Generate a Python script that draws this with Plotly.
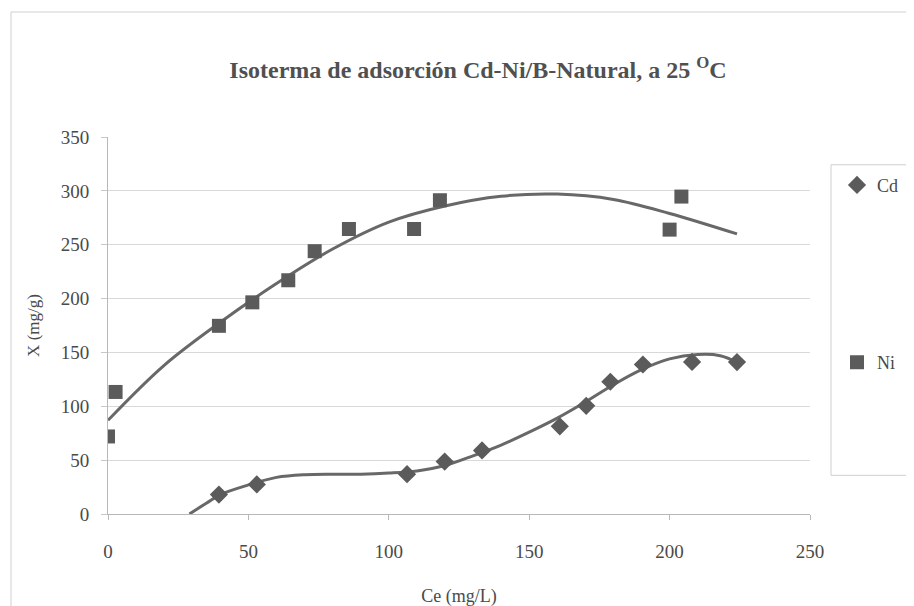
import plotly.graph_objects as go

# Data
cd_x = [39.5, 53, 106.5, 119.9, 133.2, 160.9, 170.3, 178.9, 190.5, 208, 224]
cd_y = [18, 27.5, 37, 48.7, 59, 81.4, 100.4, 122.8, 138.8, 141.2, 141]
ni_x = [0, 2.7, 39.5, 51.4, 64.2, 73.6, 85.8, 109, 118.2, 200, 204.2]
ni_y = [72, 113.3, 174.7, 196.5, 217, 244, 264.6, 264.6, 291.3, 264, 294.7]

# Trend lines
cd_trend_x = [29, 35, 40, 50, 60, 70, 80, 90, 100, 110, 120, 130, 140, 150, 160, 170, 180, 190, 200, 210, 218, 224]
cd_trend_y = [0, 10, 18, 27, 34, 36.5, 37, 37, 38, 40, 45, 54, 64, 76, 89, 104, 120, 134, 144, 148, 147, 141]
ni_trend_x = [0, 20, 40, 60, 80, 100, 120, 140, 160, 180, 200, 224]
ni_trend_y = [87, 138, 178, 214, 246, 271, 286, 295, 297, 292, 279, 260]

x_ticks = [0, 50, 100, 150, 200, 250]
y_ticks = [0, 50, 100, 150, 200, 250, 300, 350]

FONT = "Liberation Serif"
MARK = "#5b5b5b"
LINE = "#686868"

fig = go.Figure()
fig.add_trace(go.Scatter(x=cd_trend_x, y=cd_trend_y, mode="lines", line=dict(color=LINE, width=3, shape="spline"),
                         showlegend=False, hoverinfo="skip"))
fig.add_trace(go.Scatter(x=ni_trend_x, y=ni_trend_y, mode="lines", line=dict(color=LINE, width=3, shape="spline"),
                         showlegend=False, hoverinfo="skip"))
fig.add_trace(go.Scatter(x=cd_x, y=cd_y, mode="markers", name="Cd", legendgroup="cd",
                         marker=dict(symbol="diamond", size=14, color=MARK)))
fig.add_trace(go.Scatter(x=ni_x, y=ni_y, mode="markers", name="Ni", legendgroup="ni",
                         marker=dict(symbol="square", size=14, color=MARK)))

W, H = 914, 606
L, R, T, B = 100, 112, 129, 97
pw, ph = W - L - R, H - T - B

def px(xp):
    return (xp - L) / pw

def py(yp):
    return (H - B - yp) / ph

fig.update_layout(
    width=W, height=H,
    margin=dict(l=L, r=R, t=T, b=B),
    paper_bgcolor="white", plot_bgcolor="white",
    font=dict(family=FONT, size=17, color="#444"),
    title=dict(text="<b>Isoterma de adsorción Cd-Ni/B-Natural, a 25 <sup>O</sup>C</b>",
               font=dict(family=FONT, size=24, color="#505050"),
               x=470 / W, xanchor="center", xref="container",
               y=1 - 62 / H, yanchor="middle", yref="container"),
    xaxis=dict(range=[0, 250], tickvals=x_ticks, showgrid=False, zeroline=False,
               showline=True, linecolor="#b8b8b8", linewidth=1,
               ticks="outside", ticklen=5, tickcolor="#b8b8b8", ticklabelstandoff=15,
               tickfont=dict(family=FONT, size=19, color="#4a4a4a"),
               title=dict(text="Ce (mg/L)", font=dict(family=FONT, size=18, color="#4a4a4a"), standoff=28)),
    yaxis=dict(range=[0, 350], tickvals=y_ticks, showgrid=True, gridcolor="#d9d9d9", gridwidth=1,
               zeroline=False, showline=True, linecolor="#b8b8b8", linewidth=1,
               ticks="outside", ticklen=6, tickcolor="#c8c8c8", ticklabelstandoff=8,
               tickfont=dict(family=FONT, size=19, color="#4a4a4a"),
               title=dict(text="X (mg/g)", font=dict(family=FONT, size=17, color="#4a4a4a"), standoff=16)),
    legend=dict(x=px(829), xanchor="left", y=py(159), yanchor="top",
                bgcolor="rgba(0,0,0,0)", borderwidth=0, tracegroupgap=151,
                font=dict(family=FONT, size=18, color="#4a4a4a")),
    shapes=[
        dict(type="rect", xref="paper", yref="paper", x0=px(823), x1=px(902), y0=py(470), y1=py(157),
             line=dict(color="#cfcfcf", width=1), fillcolor="rgba(0,0,0,0)", layer="below"),
        dict(type="rect", xref="paper", yref="paper", x0=px(3), x1=px(911), y0=py(603), y1=py(3),
             line=dict(color="#d0d0d0", width=1), fillcolor="rgba(0,0,0,0)", layer="below"),
    ],
)

fig.write_html("out.html")
